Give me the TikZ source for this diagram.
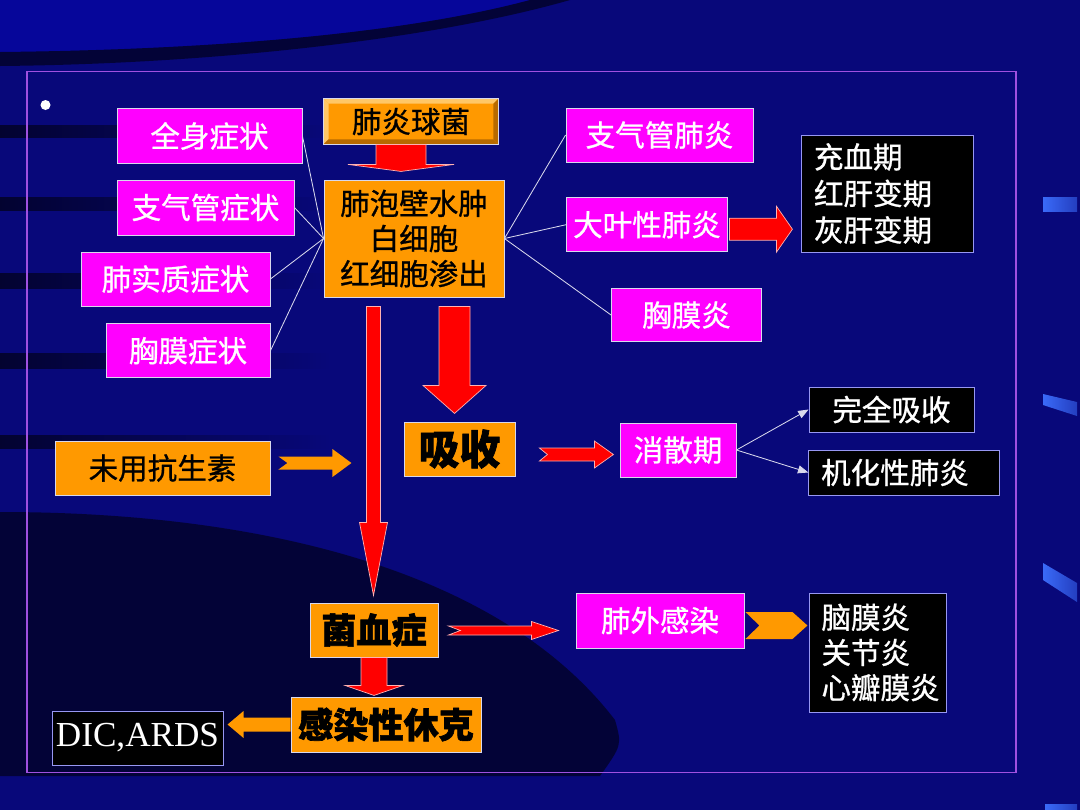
\documentclass[tikz,border=0pt]{standalone}
\usepackage{fontspec}
\setmainfont{Noto Sans CJK SC}[UprightFeatures={FakeBold=0.9}, BoldFeatures={FakeBold=1.8}]
\newfontfamily\latinserif{Liberation Serif}
\usepackage{tikz}
\usetikzlibrary{positioning, arrows.meta, calc}
\definecolor{slideBlue}{HTML}{08087A}
\definecolor{frameViolet}{HTML}{A050E0}
\definecolor{boxMagenta}{HTML}{FF00FF}
\definecolor{boxOrange}{HTML}{FF9900}
\definecolor{edgeGrey}{HTML}{D8D8EC}
\definecolor{barBlue}{HTML}{3A6AF8}
\definecolor{bevelLight}{HTML}{FFC766}
\definecolor{bevelDark}{HTML}{B86A00}

\begin{document}
\begin{tikzpicture}[x=0.025cm, y=-0.025cm,
    font=\fontsize{21}{25}\selectfont,
    cell/.style={draw=edgeGrey, line width=0.6pt, inner sep=0pt, align=center},
    mag/.style={cell, fill=boxMagenta, text=white},
    org/.style={cell, fill=boxOrange, text=black},
    heavy/.style={org, font=\fontsize{25}{30}\selectfont\bfseries},
    blk/.style={cell, fill=black, text=white, draw=edgeGrey!70!blue},
    stagebox/.style={blk, align=left, inner xsep=0.31cm},
    link/.style={edgeGrey, line width=0.6pt},
    linkhead/.style={-{Triangle[length=0.26cm, width=0.2cm]}},
    redarrow/.style={fill=red, draw=white!70!red, line width=0.5pt},
    orgarrow/.style={fill=boxOrange}]
    % --- backdrop ---
    \useasboundingbox (0,0) rectangle (1080,810);
    \fill[slideBlue] (0,0) rectangle (1080,810);
    \fill[blue!55!slideBlue, opacity=0.45] (0,0) -- (530,0) .. controls (400,35) and (200,50) .. (0,52) -- cycle;
    \fill[black, opacity=0.55] (0,52) .. controls (200,50) and (400,35) .. (530,0)
      -- (570,0) .. controls (430,40) and (210,64) .. (0,66) -- cycle;
    \foreach \y/\h in {125/12, 197/13, 273/15, 353/15, 435/13}
      \shade[left color=black, right color=slideBlue, opacity=0.6] (0,\y) rectangle (330,\y+\h);
    \fill[black, opacity=0.55] (0,512) .. controls (260,512) and (500,570) .. (615,720)
      .. controls (622,745) .. (600,776) -- (0,776) -- cycle;
    \shade[left color=barBlue, right color=barBlue!55!slideBlue] (1043,197) rectangle (1077,211);
    \shade[left color=barBlue, right color=barBlue!55!slideBlue] (1043,394) -- (1077,402) -- (1077,416) -- (1043,405) -- cycle;
    \shade[left color=barBlue, right color=barBlue!55!slideBlue] (1043,563) -- (1077,583) -- (1077,602) -- (1043,580) -- cycle;
    \shade[left color=barBlue, right color=barBlue!55!slideBlue] (1045,804) rectangle (1077,810);
    \draw[frameViolet, line width=1.4pt] (27,71.5) rectangle (1016,772.5);
    \node[circle, fill=white, inner sep=0pt, minimum size=0.25cm] (dot) at (45.5,105) {};
    % --- symptoms (left) ---
    \node[mag, minimum width=4.625cm, minimum height=1.375cm] (qs) at (209.5,136) {全身症状};
    \node[mag, minimum width=4.425cm, minimum height=1.375cm] (zq) at (205.5,207.5) {支气管症状};
    \node[mag, minimum width=4.725cm, minimum height=1.35cm] (fs) at (175.5,279) {肺实质症状};
    \node[mag, minimum width=4.1cm, minimum height=1.34cm] (xm) at (188,350.7) {胸膜症状};
    % --- centre column ---
    \node[org, draw=none, minimum width=4.35cm, minimum height=1.125cm] (jun) at (411,121.5) {肺炎球菌};
    \node[org, minimum width=4.5cm, minimum height=2.925cm] (fp) at (414,238.5) {肺泡壁水肿\\白细胞\\红细胞渗出};
    \node[org, minimum width=2.775cm, minimum height=1.35cm, font=\fontsize{29}{34}\selectfont\bfseries] (xs) at (459.5,449) {吸收};
    \node[org, minimum width=5.375cm, minimum height=1.35cm] (wy) at (162.5,468) {未用抗生素};
    \node[heavy, minimum width=3.2cm, minimum height=1.35cm] (jxz) at (374,630) {菌血症};
    \node[heavy, minimum width=4.75cm, minimum height=1.375cm] (gx) at (386,724.5) {感染性休克};
    \node[blk, minimum width=4.275cm, minimum height=1.35cm, font=\latinserif\fontsize{25}{30}\selectfont] (dic) at (137.5,738) {DIC,ARDS};
    % --- right side ---
    \node[mag, minimum width=4.675cm, minimum height=1.35cm] (zqf) at (659.5,135) {支气管肺炎};
    \node[mag, minimum width=4.025cm, minimum height=1.35cm] (dy) at (647,224.7) {大叶性肺炎};
    \node[mag, minimum width=3.75cm, minimum height=1.335cm] (xmy) at (686.5,315) {胸膜炎};
    \node[stagebox, text width=3.68cm, minimum height=2.925cm, font=\fontsize{21}{26}\selectfont] (stg) at (887.6,193.5) {充血期\\红肝变期\\灰肝变期};
    \node[mag, minimum width=2.9cm, minimum height=1.35cm] (xsq) at (678,450) {消散期};
    \node[blk, minimum width=4.125cm, minimum height=1.125cm] (wq) at (891.5,409.5) {完全吸收};
    \node[stagebox, text width=4.14cm, minimum height=1.125cm] (jh) at (904,472.5) {机化性肺炎};
    \node[mag, minimum width=4.2cm, minimum height=1.375cm] (fw) at (660,620.5) {肺外感染};
    \node[stagebox, text width=2.8cm, minimum height=2.975cm] (fwl) at (877.5,652.5) {脑膜炎\\关节炎\\心瓣膜炎};
    % --- bevel on the pathogen box ---
    \fill[bevelLight] (jun.north west) -- (jun.north east) -- ++(-5,5) -- ($(jun.north west)+(5,5)$) -- cycle;
    \fill[bevelLight] (jun.north west) -- (jun.south west) -- ++(5,-5) -- ($(jun.north west)+(5,5)$) -- cycle;
    \fill[bevelDark] (jun.south east) -- (jun.south west) -- ++(5,-5) -- ($(jun.south east)+(-5,-5)$) -- cycle;
    \fill[bevelDark] (jun.south east) -- (jun.north east) -- ++(-5,5) -- ($(jun.south east)+(-5,-5)$) -- cycle;
    \draw[link] (jun.north west) rectangle (jun.south east);
    % --- thin links ---
    \foreach \n in {qs,zq,fs,xm} \draw[link] (\n.east) -- (fp.west);
    \foreach \n in {zqf,dy,xmy} \draw[link] (fp.east) -- (\n.west);
    \draw[link, linkhead] (xsq.east) -- (wq.west);
    \draw[link, linkhead] (xsq.east) -- (jh.west);
    % --- block arrows ---
    \draw[redarrow, shift={($(jun.south)+(-10,0)$)}] (-25,0) -- (-25,20) -- (-53,20) -- (0,27) -- (53,20) -- (25,20) -- (25,0) -- cycle;
    \draw[redarrow, shift={($(fp.south)+(-40.5,9)$)}] (-7,0) -- (-7,216) -- (-14,216) -- (0,289) -- (14,216) -- (7,216) -- (7,0) -- cycle;
    \draw[redarrow, shift={($(fp.south)+(40.5,9)$)}] (-15.5,0) -- (-15.5,79) -- (-31.5,79) -- (0,107) -- (31.5,79) -- (15.5,79) -- (15.5,0) -- cycle;
    \draw[redarrow, shift={($(dy.east)+(1.5,4.5)$)}] (0,-11) -- (47,-11) -- (47,-23) -- (63,0) -- (47,23) -- (47,11) -- (0,11) -- cycle;
    \fill[orgarrow, shift={($(wy.east)+(8,-5)$)}] (0,-6.5) -- (54,-6.5) -- (54,-14) -- (73,0) -- (54,14) -- (54,6.5) -- (0,6.5) -- (9,0) -- cycle;
    \draw[redarrow, shift={($(xs.east)+(24,5.5)$)}] (0,-6.5) -- (55,-6.5) -- (55,-13.5) -- (74,0) -- (55,13.5) -- (55,6.5) -- (0,6.5) -- (8,0) -- cycle;
    \draw[redarrow, shift={($(jxz.east)+(10,0.5)$)}] (0,-4.5) -- (83,-4.5) -- (83,-9) -- (110,0) -- (83,9) -- (83,4.5) -- (0,4.5) -- (12,0) -- cycle;
    \fill[orgarrow, shift={($(fw.east)+(0,5)$)}] (1,-13.5) -- (48,-13.5) -- (63,0) -- (48,13.5) -- (1,13.5) -- (15,0) -- cycle;
    \draw[redarrow, shift={(jxz.south)}] (-13,0) -- (-13,28) -- (-29,28) -- (0,38) -- (29,28) -- (13,28) -- (13,0) -- cycle;
    \fill[orgarrow, shift={(gx.west)}] (0,-7) -- (-47,-7) -- (-47,-13.5) -- (-63,0) -- (-47,13.5) -- (-47,7) -- (0,7) -- cycle;
\end{tikzpicture}
\end{document}
